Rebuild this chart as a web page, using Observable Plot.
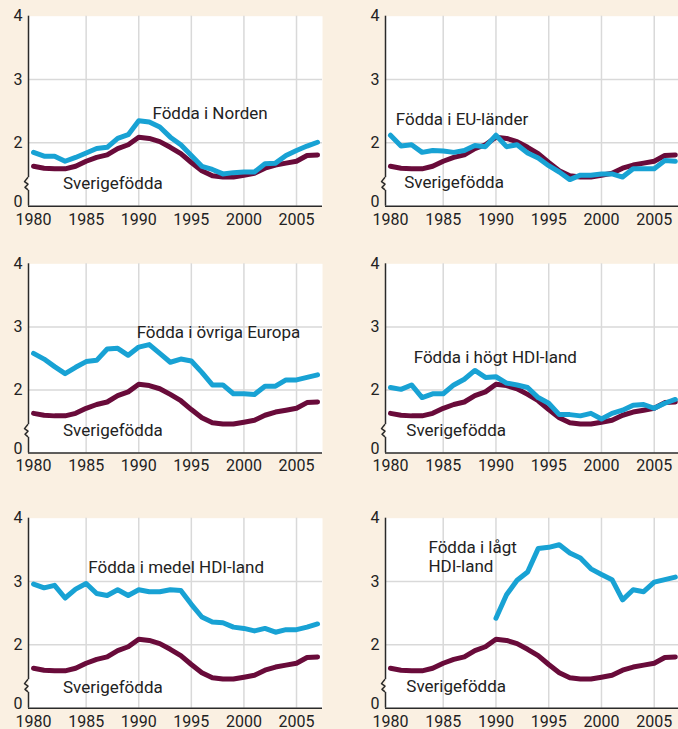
<!DOCTYPE html>
<html><head><meta charset="utf-8">
<script src="https://cdn.jsdelivr.net/npm/d3@7"></script>
<script src="https://cdn.jsdelivr.net/npm/@observablehq/plot@0.6"></script>
<style>
html,body{margin:0;padding:0;background:#faf0e2;}
#chart{position:relative;width:678px;height:729px;overflow:hidden;background:#faf0e2;font-family:Roboto,sans-serif;}
#chart svg{position:absolute;overflow:visible;}
</style></head><body><div id="chart"></div>
<script>
const years = [1980,1981,1982,1983,1984,1985,1986,1987,1988,1989,1990,1991,1992,1993,1994,1995,1996,1997,1998,1999,2000,2001,2002,2003,2004,2005,2006,2007];
const sverigefodda = [1.63,1.60,1.59,1.59,1.63,1.71,1.77,1.81,1.91,1.97,2.09,2.07,2.02,1.93,1.83,1.69,1.56,1.48,1.46,1.46,1.49,1.52,1.60,1.65,1.68,1.71,1.80,1.81];
const norden = [1.85,1.79,1.79,1.71,1.77,1.84,1.91,1.93,2.07,2.13,2.35,2.33,2.25,2.09,1.97,1.80,1.63,1.58,1.51,1.53,1.54,1.54,1.67,1.68,1.80,1.88,1.95,2.01];
const euLander = [2.12,1.95,1.97,1.85,1.88,1.87,1.85,1.88,1.96,1.94,2.12,1.94,1.97,1.84,1.76,1.64,1.54,1.42,1.49,1.49,1.51,1.51,1.46,1.59,1.59,1.59,1.72,1.71];
const ovrigaEuropa = [2.58,2.49,2.37,2.26,2.36,2.45,2.47,2.65,2.66,2.55,2.68,2.72,2.58,2.44,2.49,2.46,2.28,2.08,2.08,1.94,1.94,1.93,2.06,2.06,2.16,2.16,2.20,2.24];
const hogtHDI = [2.04,2.01,2.08,1.88,1.94,1.94,2.08,2.17,2.31,2.20,2.21,2.11,2.08,2.04,1.88,1.79,1.61,1.61,1.59,1.63,1.54,1.63,1.68,1.76,1.77,1.71,1.79,1.85];
const medelHDI = [2.96,2.90,2.94,2.74,2.88,2.97,2.81,2.78,2.87,2.78,2.87,2.84,2.84,2.87,2.86,2.64,2.44,2.36,2.35,2.28,2.26,2.22,2.26,2.20,2.24,2.24,2.28,2.33];
const lagtHDI = [null,null,null,null,null,null,null,null,null,null,2.42,2.79,3.02,3.15,3.52,3.54,3.58,3.45,3.37,3.20,3.11,3.03,2.71,2.87,2.84,2.99,3.03,3.07];
const seriesLabels = ["Födda i Norden","Födda i EU-länder","Födda i övriga Europa","Födda i högt HDI-land","Födda i medel HDI-land","Födda i lågt\nHDI-land"];
const baseLabel = "Sverigefödda";
const xTicks = [1980,1985,1990,1995,2000,2005];
const yTicks = [2,3,4];
const yBreakTick = 1;
const yBreakLabel = "0";
const seriesValues = [norden, euLander, ovrigaEuropa, hogtHDI, medelHDI, lagtHDI];

// layout (positions only)
const rowsL = [
  {top:0, height:240, mt:15.7, mb:34.3},
  {top:240, height:240, mt:23.3, mb:27.4},
  {top:480, height:249, mt:37.7, mb:21.3}
];
const colsL = [
  {left:0, width:340, ml:28, mr:18, x0:1979.52, x1:2007.47},
  {left:340, width:338, ml:45, mr:0, x0:1979.53, x1:2007.3}
];
const labelPos = [
  {x:1991.3, y:2.47, sx:1982.8, sy:1.36},
  {x:1980.5, y:2.38, sx:1981.3, sy:1.38},
  {x:1989.8, y:2.91, sx:1982.8, sy:1.36},
  {x:1982.2, y:2.52, sx:1981.5, sy:1.36},
  {x:1985.2, y:3.22, sx:1982.8, sy:1.33},
  {x:1983.6, y:3.395, sx:1981.5, sy:1.34}
];
const BLUE = "#18a2d4", MAROON = "#690b3a", GRID = "#d9d9d9", AX = "#2a2a2a", TXT = "#222";

const chart = document.getElementById("chart");
seriesValues.forEach((vals, i) => {
  const R = rowsL[Math.floor(i/2)], C = colsL[i%2], P = labelPos[i];
  const data = years.map((yr, j) => ({year: yr, sv: sverigefodda[j], v: vals[j]}));
  const plot = Plot.plot({
    width: C.width, height: R.height,
    marginTop: R.mt, marginBottom: R.mb, marginLeft: C.ml, marginRight: C.mr,
    style: {background: "transparent", fontFamily: "Roboto, sans-serif", fontSize: "16px", color: TXT, overflow: "visible"},
    x: {domain: [C.x0, C.x1]},
    y: {domain: [1, 4]},
    marks: [
      Plot.frame({fill: "white", stroke: null}),
      Plot.gridX(xTicks.slice(1), {stroke: GRID, strokeOpacity: 1, strokeWidth: 1.5}),
      Plot.gridY([2, 3], {stroke: GRID, strokeOpacity: 1, strokeWidth: 1.5}),
      Plot.line(data, {x: "year", y: "sv", stroke: MAROON, strokeWidth: 5, strokeLinejoin: "round"}),
      Plot.line(data, {x: "year", y: "v", stroke: BLUE, strokeWidth: 5, strokeLinejoin: "round"}),
      Plot.ruleY([1], {stroke: AX, strokeWidth: 1.5}),
      Plot.ruleX([C.x0], {y1: 1.45, y2: 4, stroke: AX, strokeWidth: 1.5}),
      Plot.ruleX([C.x0], {y1: 1, y2: 1.25, stroke: AX, strokeWidth: 1.5}),
      Plot.text([{x: P.x, y: P.y, t: seriesLabels[i]}], {x: "x", y: "y", text: "t", textAnchor: "start", fill: TXT, fontSize: 17, lineHeight: 1.08}),
      Plot.text([{x: P.sx, y: P.sy, t: baseLabel}], {x: "x", y: "y", text: "t", textAnchor: "start", fill: TXT, fontSize: 17}),
      Plot.axisY(yTicks, {tickSize: 0, tickPadding: 6, tickFormat: (d) => String(d), label: null, fill: TXT}),
      Plot.axisY([yBreakTick], {tickSize: 0, tickPadding: 6, tickFormat: () => yBreakLabel, label: null, fill: TXT, dy: -4}),
      Plot.axisX(xTicks, {tickSize: 0, tickPadding: 7, tickFormat: (d) => String(d), label: null, fill: TXT})
    ]
  });
  const X = plot.scale("x"), Y = plot.scale("y");
  const px = X.apply(C.x0), ya = Y.apply(1.45), yb = Y.apply(1.25);
  const h = (yb - ya);
  d3.select(plot).append("path")
    .attr("d", `M${px},${ya} L${px-3.5},${ya+h*0.35} L${px},${ya+h*0.55} L${px-3},${ya+h*0.8} L${px},${yb}`)
    .attr("fill", "none").attr("stroke", AX).attr("stroke-width", 1.5).attr("stroke-linejoin", "round");
  plot.style.left = C.left + "px";
  plot.style.top = R.top + "px";
  chart.appendChild(plot);
});
</script></body></html>
